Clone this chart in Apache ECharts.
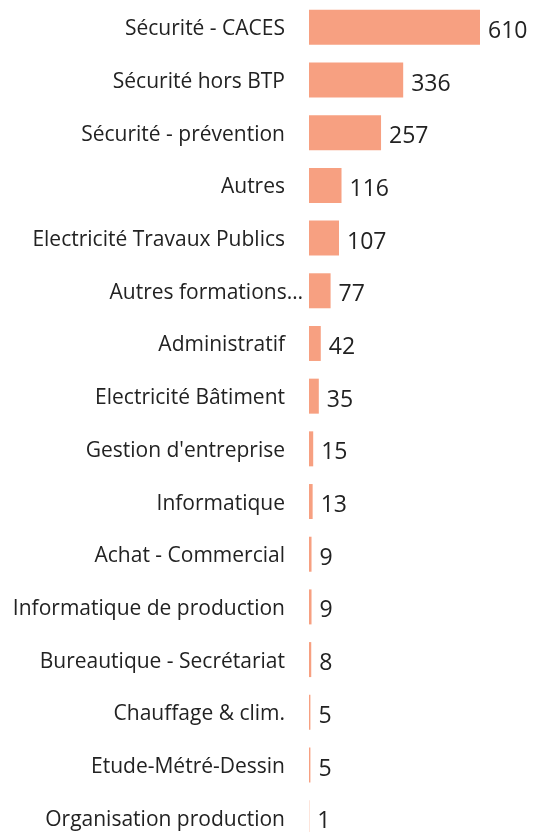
<!DOCTYPE html>
<html><head><meta charset="utf-8">
<script src="https://cdn.jsdelivr.net/npm/echarts@6/dist/echarts.min.js"></script>
<style>html,body{margin:0;padding:0;background:#fff;overflow:hidden}#c{width:533px;height:846px}</style>
</head><body><div id="c"></div>
<script>
const categories = ["Sécurité - CACES","Sécurité hors BTP","Sécurité - prévention","Autres","Electricité Travaux Publics","Autres formations…","Administratif","Electricité Bâtiment","Gestion d'entreprise","Informatique","Achat - Commercial","Informatique de production","Bureautique - Secrétariat","Chauffage & clim.","Etude-Métré-Dessin","Organisation production"];
const values = [610,336,257,116,107,77,42,35,15,13,9,9,8,5,5,1];
const chart = echarts.init(document.getElementById('c'));
chart.setOption({
  animation:false,
  grid:{left:309,top:1,width:171,height:843,containLabel:false},
  xAxis:{type:'value',min:0,max:610,show:false},
  yAxis:{type:'category',data:categories,inverse:true,
    axisLine:{show:false},axisTick:{show:false},
    axisLabel:{margin:6,fontFamily:'Open Sans',fontSize:21,color:'#222',
      formatter:v=>v.endsWith('…')?'{t|'+v+'}':'{n|'+v+'}',
      rich:{n:{fontFamily:'Open Sans',fontSize:21,color:'#222',padding:[4,18,0,0]},
            t:{fontFamily:'Open Sans',fontSize:21,color:'#222',padding:[4,0,0,0]}}}},
  series:[{type:'bar',data:values,barWidth:35,
    itemStyle:{color:'#F7A081'},
    label:{show:true,position:'right',distance:8,offset:[0,4],fontFamily:'Open Sans',fontSize:23,color:'#222'}}]
});
</script></body></html>
